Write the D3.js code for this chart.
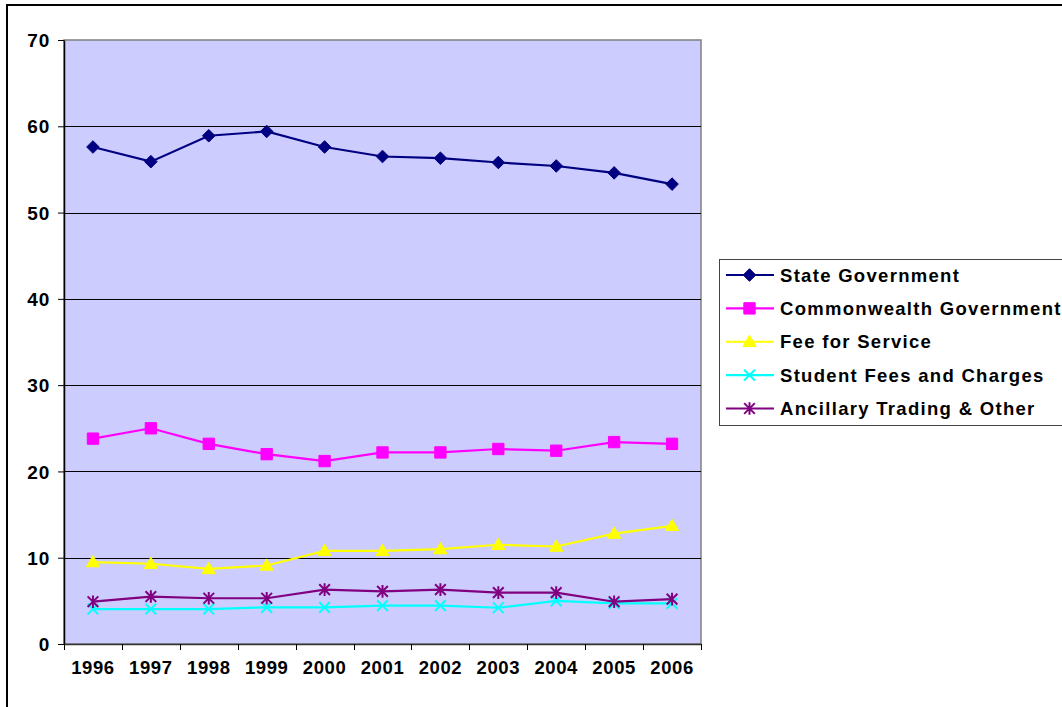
<!DOCTYPE html>
<html>
<head>
<meta charset="utf-8">
<script src="https://cdn.jsdelivr.net/npm/d3@7/dist/d3.min.js"></script>
<style>
html,body{margin:0;padding:0;background:#fff;}
svg{display:block;}
text{font-family:"Liberation Sans",Arial,sans-serif;font-weight:bold;fill:#000;}
</style>
</head>
<body>
<svg id="chart" width="1062" height="707"></svg>
<script>
const years = ["1996","1997","1998","1999","2000","2001","2002","2003","2004","2005","2006"];
const stateGov = [57.6, 55.9, 58.9, 59.4, 57.6, 56.5, 56.3, 55.8, 55.4, 54.6, 53.3];
const commonwealthGov = [23.8, 25.0, 23.2, 22.0, 21.2, 22.2, 22.2, 22.6, 22.4, 23.4, 23.2];
const feeForService = [9.5, 9.3, 8.7, 9.1, 10.8, 10.8, 11.0, 11.5, 11.3, 12.8, 13.7];
const studentFees = [4.05, 4.05, 4.05, 4.25, 4.25, 4.45, 4.45, 4.2, 5.0, 4.7, 4.7];
const ancillary = [4.9, 5.5, 5.3, 5.3, 6.3, 6.1, 6.3, 5.95, 5.95, 4.9, 5.2];
const yTicks = [0, 10, 20, 30, 40, 50, 60, 70];

const seriesNames = ["State Government","Commonwealth Government","Fee for Service","Student Fees and Charges","Ancillary Trading & Other"];
const seriesValues = [stateGov, commonwealthGov, feeForService, studentFees, ancillary];
const seriesColors = ["#000080","#FF00FF","#FFFF00","#00FFFF","#800080"];
const seriesMarkers = ["diamond","square","triangle","x","star"];

const svg = d3.select("#chart");
const plot = {left:64, right:701, top:40, bottom:644};

// outer chart border
svg.append("rect").attr("x",7).attr("y",5).attr("width",1100).attr("height",800)
  .attr("fill","#fff").attr("stroke","#000").attr("stroke-width",2);

const x = d3.scaleBand().domain(years).range([plot.left, plot.right]).paddingInner(0).paddingOuter(0);
const y = d3.scaleLinear().domain([0,70]).range([plot.bottom, plot.top]);
const cx = d => x(d) + x.bandwidth()/2;

// plot background
svg.append("rect").attr("x",plot.left).attr("y",plot.top)
  .attr("width",plot.right-plot.left).attr("height",plot.bottom-plot.top)
  .attr("fill","#CCCCFF").attr("stroke","#808080").attr("stroke-width",1.5);

// gridlines
svg.append("g").selectAll("line").data(yTicks.filter(t=>t>0 && t<70)).join("line")
  .attr("x1",plot.left).attr("x2",plot.right)
  .attr("y1",d=>Math.round(y(d))+0.5).attr("y2",d=>Math.round(y(d))+0.5)
  .attr("stroke","#000").attr("stroke-width",1);

// y axis
const yAxis = d3.axisLeft(y).tickValues(yTicks).tickSize(6).tickPadding(8).tickSizeOuter(0);
const gy = svg.append("g").attr("transform",`translate(${plot.left},0)`).call(yAxis);
gy.select(".domain").attr("stroke","#000").attr("stroke-width",1.5);
gy.selectAll(".tick line").attr("stroke","#000");
gy.selectAll(".tick text").style("font-size","19px").style("letter-spacing","0.8px").attr("dy","0.35em");

// x axis
const xAxis = d3.axisBottom(x).tickSize(0).tickPadding(17);
const gx = svg.append("g").attr("transform",`translate(0,${plot.bottom})`).call(xAxis);
gx.select(".domain").attr("stroke","#333").attr("stroke-width",1.5);
gx.selectAll(".tick text").style("font-size","18.5px").style("letter-spacing","0.6px");
// boundary ticks
const bounds = years.map(d=>x(d)).concat([plot.right]);
svg.append("g").selectAll("line").data(bounds).join("line")
  .attr("x1",d=>Math.round(d)+0.5).attr("x2",d=>Math.round(d)+0.5)
  .attr("y1",plot.bottom).attr("y2",plot.bottom+6)
  .attr("stroke","#000").attr("stroke-width",1);

function markerPath(type, s){
  const p = d3.path();
  if(type==="diamond"){ p.moveTo(0,-s); p.lineTo(s,0); p.lineTo(0,s); p.lineTo(-s,0); p.closePath(); }
  else if(type==="square"){ p.rect(-s*0.9,-s*0.9,s*1.8,s*1.8); }
  else if(type==="triangle"){ p.moveTo(0,-s*1.05); p.lineTo(s*1.05,s*0.75); p.lineTo(-s*1.05,s*0.75); p.closePath(); }
  else if(type==="x"){ p.moveTo(-s*0.85,-s*0.85); p.lineTo(s*0.85,s*0.85); p.moveTo(s*0.85,-s*0.85); p.lineTo(-s*0.85,s*0.85); }
  else if(type==="star"){ p.moveTo(-s*0.85,-s*0.85); p.lineTo(s*0.85,s*0.85); p.moveTo(s*0.85,-s*0.85); p.lineTo(-s*0.85,s*0.85); p.moveTo(0,-s); p.lineTo(0,s); }
  return p.toString();
}
function drawMarker(g, type, color){
  const filled = (type==="diamond"||type==="square"||type==="triangle");
  g.append("path").attr("d",markerPath(type,6.3))
    .attr("fill",filled?color:"none").attr("stroke",color).attr("stroke-width",filled?1:2);
}

const line = d3.line().x(d=>cx(d.year)).y(d=>y(d.v));
seriesValues.forEach((vals,i)=>{
  const data = years.map((yr,j)=>({year:yr, v:vals[j]}));
  const g = svg.append("g");
  g.append("path").datum(data).attr("d",line).attr("fill","none")
    .attr("stroke",seriesColors[i]).attr("stroke-width",2.2);
  data.forEach(d=>{
    const m = g.append("g").attr("transform",`translate(${cx(d.year)},${y(d.v)})`);
    drawMarker(m, seriesMarkers[i], seriesColors[i]);
  });
});

// legend
const leg = svg.append("g");
leg.append("rect").attr("x",719.5).attr("y",259.5).attr("width",400).attr("height",166)
  .attr("fill","#fff").attr("stroke","#444").attr("stroke-width",1);
const rowY = d3.scalePoint().domain(seriesNames).range([275,408.5]);
seriesNames.forEach((name,i)=>{
  const yy = rowY(name);
  leg.append("line").attr("x1",726).attr("x2",774).attr("y1",yy).attr("y2",yy)
    .attr("stroke",seriesColors[i]).attr("stroke-width",2.2);
  const m = leg.append("g").attr("transform",`translate(749.5,${yy})`);
  drawMarker(m, seriesMarkers[i], seriesColors[i]);
  leg.append("text").attr("x",780).attr("y",yy).attr("dy","0.36em")
    .style("font-size","18.5px").style("letter-spacing","1.3px").text(name);
});
</script>
</body>
</html>
